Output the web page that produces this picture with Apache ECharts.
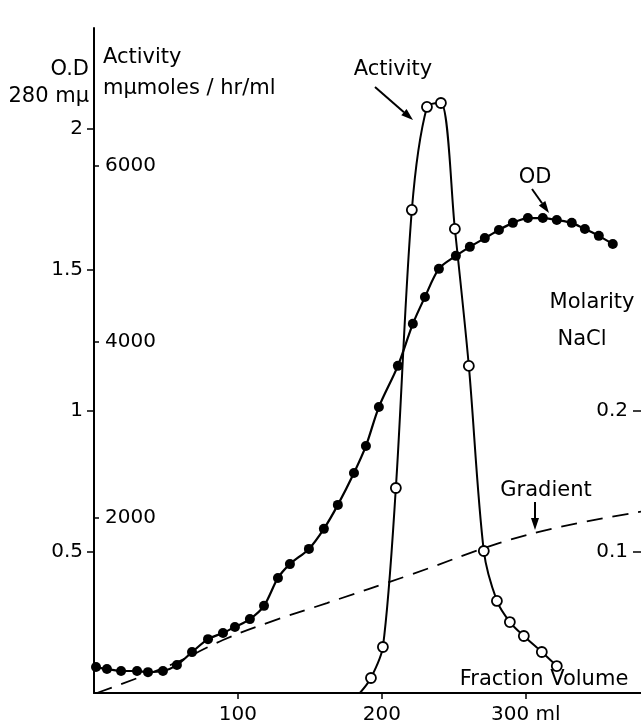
<!DOCTYPE html>
<html>
<head>
<meta charset="utf-8">
<script src="https://cdn.jsdelivr.net/npm/echarts@6/dist/echarts.min.js"></script>
<style>
html,body{margin:0;padding:0;background:#fff;}
#chart{width:641px;height:726px;}
</style>
</head>
<body>
<div id="chart"></div>
<script>
// ---- Data ----
// Optical density at 280 mμ (filled circles)
const odVolume = [1.4, 9, 18.8, 29.9, 37.5, 47.9, 57.6, 68.1, 79.2, 89.6, 97.9, 108.3, 118.1, 127.8, 136.1, 149.3, 159.7, 169.4, 180.6, 188.9, 197.9, 211.1, 221.5, 229.9, 239.6, 251.4, 261.1, 271.5, 281.3, 291.0, 301.4, 311.8, 321.5, 331.9, 341.0, 350.7, 360.4];
const odValues = [0.092, 0.085, 0.078, 0.078, 0.074, 0.078, 0.099, 0.145, 0.191, 0.213, 0.234, 0.262, 0.309, 0.408, 0.457, 0.511, 0.582, 0.667, 0.780, 0.876, 1.014, 1.160, 1.309, 1.404, 1.504, 1.550, 1.582, 1.613, 1.642, 1.667, 1.684, 1.684, 1.677, 1.667, 1.645, 1.621, 1.592];

// Activity mμmoles/hr/ml (open circles); first entry is the curve start without marker
const actVolume = [184.7, 192.4, 200.7, 209.7, 220.8, 231.3, 241.0, 250.7, 260.4, 270.8, 279.9, 288.9, 298.6, 311.1, 321.5];
const actValues = [0, 171, 524, 2334, 5500, 6673, 6718, 5284, 3724, 1617, 1048, 808, 649, 467, 307];

// NaCl gradient (molarity, dashed)
const gradVolume = [2, 54.9, 89.6, 120.1, 161.8, 219.4, 281.9, 323.6, 380];
const gradValues = [0, 0.0206, 0.0376, 0.0496, 0.0638, 0.0837, 0.1064, 0.1177, 0.1286];

// Tick labels
const xTicks = [100, 200, 300];
const odTicks = [0.5, 1, 1.5, 2];
const actTicks = [2000, 4000, 6000];
const molTicks = [0.1, 0.2];

// ---- Chart ----
const FONT = 'DejaVu Sans';
const chart = echarts.init(document.getElementById('chart'), null, {renderer: 'canvas'});

function zip(xs, ys) { return xs.map((x, i) => [x, ys[i]]); }

const actData = zip(actVolume, actValues).map((p, i) => i === 0 ? {value: p, symbol: 'none'} : p);

function arrow(x1, y1, x2, y2) {
  const dx = x2 - x1, dy = y2 - y1, L = Math.sqrt(dx*dx + dy*dy);
  const ux = dx / L, uy = dy / L, hl = 12, hw = 4;
  const bx = x2 - ux*hl, by = y2 - uy*hl;
  return [
    {type: 'line', shape: {x1: x1, y1: y1, x2: bx, y2: by}, style: {stroke: '#000', lineWidth: 2}},
    {type: 'polygon', shape: {points: [[x2, y2], [bx - uy*hw, by + ux*hw], [bx + uy*hw, by - ux*hw]]}, style: {fill: '#000'}}
  ];
}

function txt(s, x, y, align) {
  return {type: 'text', x: x, y: y, style: {text: s, fill: '#000', font: '21px "' + FONT + '"', align: align || 'left', verticalAlign: 'middle'}};
}

const labelStyle = {color: '#000', fontFamily: FONT, fontSize: 20};

const option = {
  backgroundColor: '#fff',
  animation: false,
  grid: {left: 94, right: 0, top: 28, bottom: 33, containLabel: false},
  xAxis: {
    type: 'value', min: 0, max: 380,
    axisLine: {show: true, onZero: false, lineStyle: {color: '#000', width: 2}},
    axisTick: {show: true, customValues: xTicks, length: 6, lineStyle: {color: '#000', width: 1.5}},
    axisLabel: Object.assign({customValues: xTicks, margin: 12,
      formatter: v => v === 300 ? '300 ml' : String(v)}, labelStyle),
    splitLine: {show: false}
  },
  yAxis: [
    {
      type: 'value', position: 'left', min: 0, max: 2.358,
      axisLine: {show: true, onZero: false, lineStyle: {color: '#000', width: 2}},
      axisTick: {show: true, customValues: odTicks, length: 7, lineStyle: {color: '#000', width: 1.5}},
      axisLabel: Object.assign({customValues: odTicks, margin: 11, formatter: v => String(v)}, labelStyle),
      splitLine: {show: false}
    },
    {
      type: 'value', position: 'left', min: 0, max: 7572,
      axisLine: {show: false, onZero: false},
      axisTick: {show: true, inside: true, customValues: actTicks, length: 5, lineStyle: {color: '#000', width: 1.5}},
      axisLabel: Object.assign({inside: true, customValues: actTicks, margin: 11, formatter: v => String(v)}, labelStyle),
      splitLine: {show: false}
    },
    {
      type: 'value', position: 'right', min: 0, max: 0.4716,
      axisLine: {show: false, onZero: false},
      axisTick: {show: true, inside: true, customValues: molTicks, length: 8, lineStyle: {color: '#000', width: 1.5}},
      axisLabel: Object.assign({inside: true, customValues: molTicks, margin: 13, formatter: v => String(v)}, labelStyle),
      splitLine: {show: false}
    }
  ],
  series: [
    {
      name: 'Gradient', type: 'line', yAxisIndex: 2, data: zip(gradVolume, gradValues),
      showSymbol: false, symbol: 'none', smooth: 0.4,
      lineStyle: {color: '#000', width: 1.8, type: [16, 10]}, z: 1
    },
    {
      name: 'OD', type: 'line', yAxisIndex: 0, data: zip(odVolume, odValues),
      smooth: 0.3, symbol: 'circle', symbolSize: 10,
      itemStyle: {color: '#000'}, lineStyle: {color: '#000', width: 2.2}, z: 3
    },
    {
      name: 'Activity', type: 'line', yAxisIndex: 1, data: actData,
      smooth: 0.3, symbol: 'circle', symbolSize: 10,
      itemStyle: {color: '#fff', borderColor: '#000', borderWidth: 1.8},
      lineStyle: {color: '#000', width: 2}, z: 4
    }
  ],
  graphic: [
    txt('O.D', 89, 70, 'right'),
    txt('280 mμ', 89, 97, 'right'),
    txt('Activity', 103, 58, 'left'),
    txt('mμmoles / hr/ml', 103, 89, 'left'),
    txt('Activity', 393, 70, 'center'),
    txt('OD', 535, 178, 'center'),
    txt('Molarity', 592, 303, 'center'),
    txt('NaCl', 582, 340, 'center'),
    txt('Gradient', 546, 491, 'center'),
    txt('Fraction Volume', 544, 680, 'center'),
    ...arrow(375, 87, 413, 120),
    ...arrow(532, 189, 549, 213),
    ...arrow(535, 502, 535, 530)
  ]
};
chart.setOption(option);
</script>
</body>
</html>
